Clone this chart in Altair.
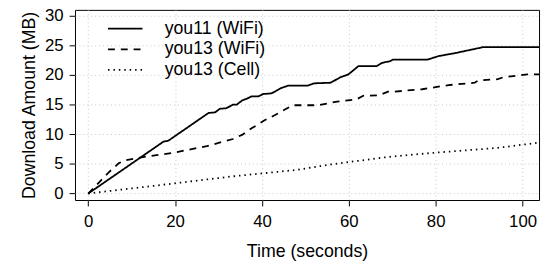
import altair as alt
import pandas as pd

# you11 (WiFi) - solid
t_you11 = [0, 17.3, 18.4, 27.7, 29.2, 30.3, 31.8, 33.3, 34.2, 35.4, 36.5, 37.6, 39.2, 40.3, 42.2,
           44.4, 46.0, 50.5, 52.0, 55.8, 58.0, 59.9, 62.2, 66.4, 67.5, 68.6, 69.4, 70.1, 78.1, 80.7,
           84.5, 88.3, 90.9, 103.8]
v_you11 = [0, 8.75, 8.9, 13.6, 13.7, 14.3, 14.4, 15.0, 15.0, 15.7, 16.0, 16.4, 16.4, 16.8, 16.9,
           17.8, 18.2, 18.2, 18.6, 18.7, 19.6, 20.1, 21.5, 21.5, 22.0, 22.2, 22.3, 22.6, 22.6, 23.2,
           23.7, 24.3, 24.7, 24.7]

# you13 (WiFi) - dashed
t_you13w = [0, 4.6, 7.0, 8.4, 12.2, 19.7, 27.3, 33.3, 35.4, 37.6, 40.7, 42.9, 45.6, 47.1, 52.8,
            57.3, 61.8, 63.3, 67.1, 69.0, 70.5, 76.9, 83.0, 89.0, 89.8, 94.3, 95.5, 101.1, 103.8]
v_you13w = [0, 3.5, 5.1, 5.6, 6.1, 6.9, 8.0, 9.2, 9.9, 11.0, 12.4, 13.2, 14.3, 14.9, 14.9,
            15.5, 15.9, 16.5, 16.6, 17.2, 17.2, 17.6, 18.3, 18.7, 19.1, 19.3, 19.6, 20.1, 20.1]

# you13 (Cell) - dotted
t_you13c = [0, 15.2, 33.3, 48.2, 55.8, 59.9, 69.4, 80.0, 94.3, 103.8]
v_you13c = [0, 1.3, 2.9, 4.0, 4.9, 5.3, 6.2, 6.9, 7.7, 8.6]

series = ["you11 (WiFi)", "you13 (WiFi)", "you13 (Cell)"]
x_ticks = [0, 20, 40, 60, 80, 100]
y_ticks = [0, 5, 10, 15, 20, 25, 30]

rows = []
for name, ts, vs in zip(series, [t_you11, t_you13w, t_you13c], [v_you11, v_you13w, v_you13c]):
    for i, (t, v) in enumerate(zip(ts, vs)):
        rows.append({"series": name, "t": t, "v": v, "order": i})
df = pd.DataFrame(rows)

FONT = "Liberation Sans"

chart = alt.Chart(df).mark_line(color="black", strokeWidth=1.8, clip=True).encode(
    x=alt.X("t:Q", title="Time (seconds)",
            scale=alt.Scale(domain=[-3.06, 103.8], nice=False, zero=False),
            axis=alt.Axis(values=x_ticks, labelPadding=8, titlePadding=13)),
    y=alt.Y("v:Q", title="Download Amount (MB)",
            scale=alt.Scale(domain=[-1.1, 31.0], nice=False, zero=False),
            axis=alt.Axis(values=y_ticks, labelPadding=6, titlePadding=6)),
    strokeDash=alt.StrokeDash("series:N", sort=series,
                              scale=alt.Scale(domain=series, range=[[1, 0], [7, 6], [1.5, 4]]),
                              legend=alt.Legend(title=None, orient="none", legendX=40, legendY=8,
                                                symbolType="M-1.75,0H1.75", symbolSize=400,
                                                symbolStrokeColor="black", symbolStrokeWidth=1.8,
                                                symbolFillColor="transparent",
                                                labelFontSize=18, labelFont=FONT, labelColor="black",
                                                labelOffset=29, rowPadding=1, padding=0)),
    order="order:Q",
).properties(
    width=471, height=193,
    autosize=alt.AutoSizeParams(type="none"),
    padding={"left": 68, "top": 0, "right": 3, "bottom": 60},
).configure_view(
    stroke="black", strokeWidth=1
).configure_axis(
    domain=False, grid=True, gridColor="#c8c8c8", gridDash=[1, 3], gridWidth=1,
    ticks=True, tickColor="black", tickSize=6, tickWidth=1,
    labelFont=FONT, labelFontSize=17, labelColor="black",
    titleFont=FONT, titleFontSize=18, titleColor="black", titleFontWeight="normal",
).configure_axisY(labelAngle=0)

chart.save("out.html", embed_options={"renderer": "svg", "actions": False})
